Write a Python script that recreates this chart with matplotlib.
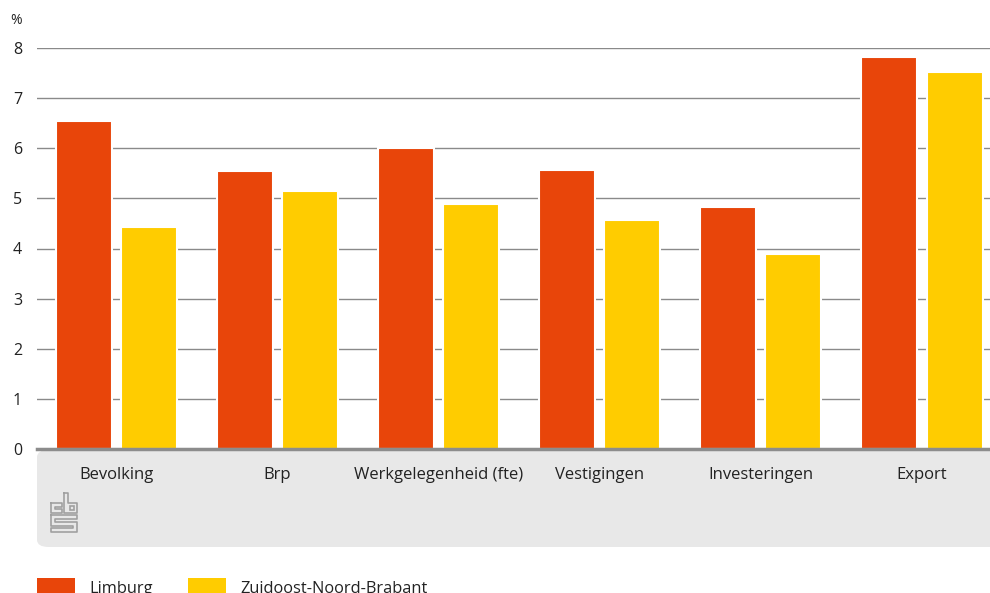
import matplotlib.pyplot as plt
from matplotlib.patches import FancyBboxPatch, Rectangle

plt.rcParams["font.family"] = ["Open Sans", "DejaVu Sans"]

categories = ["Bevolking", "Brp", "Werkgelegenheid (fte)", "Vestigingen", "Investeringen", "Export"]
limburg = [6.55, 5.55, 6.0, 5.57, 4.83, 7.82]
znb = [4.43, 5.15, 4.89, 4.57, 3.89, 7.52]
series_names = ["Limburg", "Zuidoost-Noord-Brabant"]
colors = ["#E8450A", "#FFCC00"]

W, H = 990, 593
fig = plt.figure(figsize=(W / 100, H / 100), dpi=100)


def fx(px):
    return px / W


def fy(py):
    return 1 - py / H


# grey panel under the x axis
panel = FancyBboxPatch((fx(37), fy(547)), fx(990 + 20) - fx(37), fy(450) - fy(547),
                       boxstyle="round,pad=0,rounding_size=0.012", transform=fig.transFigure,
                       facecolor="#e8e8e8", edgecolor="none", zorder=-5)
fig.patches.append(panel)

ax = fig.add_axes([fx(37), fy(449), fx(990) - fx(37), fy(48) - fy(449)])
ax.patch.set_alpha(0)

x = list(range(len(categories)))
w = 0.348
off = 0.202
ax.bar([i - off for i in x], limburg, width=w, color=colors[0], edgecolor="white", linewidth=1.5, zorder=3)
ax.bar([i + off for i in x], znb, width=w, color=colors[1], edgecolor="white", linewidth=1.5, zorder=3)

ax.set_xlim(-0.493, 5.422)
ax.set_ylim(0, 8)
ax.set_yticks(range(0, 9))
ax.yaxis.grid(True, color="#8a8a8a", linewidth=1.0, zorder=1)
ax.set_axisbelow(True)
for s in ["top", "right", "left"]:
    ax.spines[s].set_visible(False)
ax.spines["bottom"].set_color("#8c8c8c")
ax.spines["bottom"].set_linewidth(2.5)
ax.spines["bottom"].set_zorder(4)
ax.set_xticks(x)
ax.set_xticklabels(categories, fontsize=12, color="#222222")
ax.tick_params(axis="x", length=0, pad=13)
ax.tick_params(axis="y", length=0, pad=14, labelsize=11.5, labelcolor="#222222")
for lab in ax.get_yticklabels():
    lab.set_horizontalalignment("center")

fig.text(fx(16), fy(20), "%", fontsize=10, color="#222222", ha="center", va="center")

# cbs logo (simplified)
lc = "#a0a0a0"
logo = [
    [(51, 503), (62, 503), (62, 507), (55, 507), (55, 509), (62, 509), (62, 513), (51, 513), (51, 503)],
    [(64, 493), (68, 493), (68, 503), (77, 503), (77, 513), (64, 513), (64, 493)],
    [(51, 515), (77, 515), (77, 519), (55, 519), (55, 522), (77, 522), (77, 532), (51, 532), (51, 528),
     (73, 528), (73, 526), (51, 526), (51, 515)],
]
for path in logo:
    fig.add_artist(plt.Line2D([fx(p[0]) for p in path], [fy(p[1]) for p in path],
                              transform=fig.transFigure, color=lc, linewidth=1.2))
fig.add_artist(Rectangle((fx(70), fy(510)), fx(4), fy(0) - fy(4), transform=fig.transFigure,
                         facecolor="none", edgecolor=lc, linewidth=1.2))

# legend
leg_x = [37, 188]
for xp, name, c in zip(leg_x, series_names, colors):
    fig.add_artist(Rectangle((fx(xp), fy(593)), fx(38), fy(578) - fy(593), transform=fig.transFigure,
                             facecolor=c, edgecolor="none"))
    fig.text(fx(xp + 52), fy(589), name, fontsize=11.8, color="#222222", ha="left", va="center")

fig.savefig("out.png", dpi=100)
